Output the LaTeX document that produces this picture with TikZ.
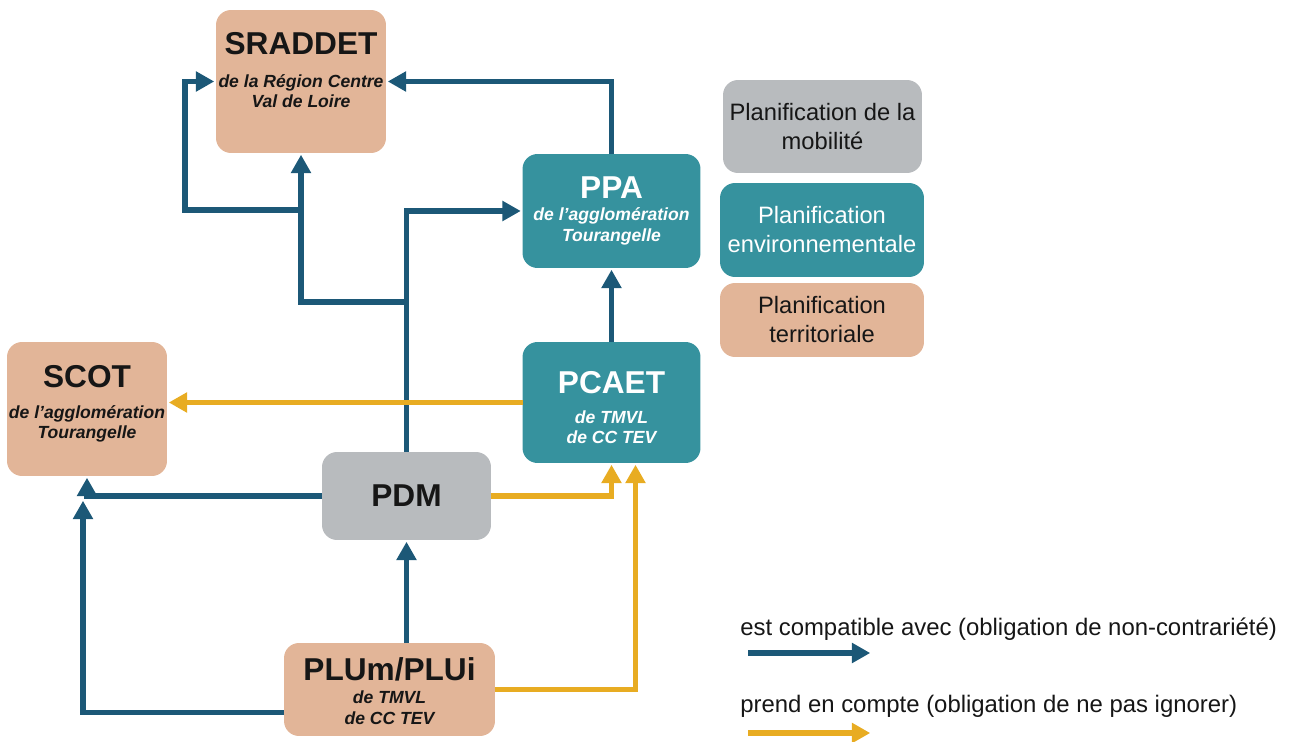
\documentclass[tikz,border=0pt]{standalone}
\usepackage{fontspec}
\setmainfont{Liberation Sans}
\usepackage{tikz}
\usetikzlibrary{arrows.meta,calc}

\definecolor{terri}{HTML}{E2B598}
\definecolor{envi}{HTML}{36929E}
\definecolor{mobi}{HTML}{B8BBBE}
\definecolor{bleu}{HTML}{1C5877}
\definecolor{jaune}{HTML}{E8AC22}
\definecolor{texte}{HTML}{161616}

\newcommand{\titre}[1]{{\fontsize{18}{18}\selectfont\upshape #1}}

\begin{document}
\begin{tikzpicture}[x=0.02cm, y=-0.02cm,
    boite/.style={rounded corners=0.3cm, inner sep=0pt, outer sep=0pt, align=center,
        font=\fontsize{10}{11.6}\selectfont\bfseries\itshape},
    terr/.style={boite, fill=terri, text=texte},
    env/.style={boite, fill=envi, text=white},
    mob/.style={boite, fill=mobi, text=texte},
    leg/.style={rounded corners=0.3cm, inner sep=0pt, align=center,
        font=\fontsize{13.5}{16.5}\selectfont},
    compat/.style={draw=bleu, line width=3.4pt, -{Triangle[length=10.5pt,width=11pt]}, shorten >=1pt},
    prend/.style={compat, draw=jaune}]
    \useasboundingbox (0,0) rectangle (1297,742);

    % plans
    \node[terr, minimum width=3.4cm, minimum height=2.86cm] (sraddet) at (301,81.5)
        {\titre{SRADDET}\\[7.1pt]de la Région Centre\\Val de Loire\\[1.4pt]\mbox{}};
    \node[env, minimum width=3.56cm, minimum height=2.28cm] (ppa) at (611.5,211)
        {\titre{PPA}\\[0.9pt]de l’agglomération\\Tourangelle};
    \node[env, minimum width=3.56cm, minimum height=2.42cm] (pcaet) at (611.5,402.5)
        {\titre{\rule{0pt}{18.5pt}PCAET}\\[5.4pt]de TMVL\\de CC TEV};
    \node[terr, minimum width=3.2cm, minimum height=2.68cm] (scot) at (87,409)
        {\titre{SCOT}\\[6pt]de l’agglomération\\Tourangelle\\[-3.6pt]\mbox{}};
    \node[mob, minimum width=3.38cm, minimum height=1.76cm] (pdm) at (406.5,496)
        {\titre{PDM}};
    \node[terr, minimum width=4.22cm, minimum height=1.86cm] (plu) at (389.5,689.5)
        {\titre{\rule{0pt}{15pt}PLUm/PLUi}\\[1.4pt]de TMVL\\de CC TEV};

    % legende
    \node[leg, fill=mobi, text=texte, minimum width=3.98cm, minimum height=1.86cm] (legmob) at (822.5,126.5)
        {Planification de la\\mobilité};
    \node[leg, fill=envi, text=white, minimum width=4.08cm, minimum height=1.88cm] (legenv) at (822,230)
        {Planification\\environnementale};
    \node[leg, fill=terri, text=texte, minimum width=4.08cm, minimum height=1.48cm] (legter) at (822,320)
        {Planification\\territoriale};
    \node[anchor=base west, inner sep=0pt, text=texte, font=\fontsize{13.6}{16}\selectfont] (legcompat) at (740,635)
        {est compatible avec (obligation de non-contrariété)};
    \node[anchor=base west, inner sep=0pt, text=texte, font=\fontsize{13.6}{16}\selectfont] (legprend) at (740,712)
        {prend en compte (obligation de ne pas ignorer)};

    % points de passage
    \coordinate (j1) at (406.5,302);
    \coordinate (j2) at (301,210);
    \coordinate (k) at (185,210);
    \coordinate (s2) at (83,499);
    \coordinate (a1) at (748,653);
    \coordinate (b1) at (872,653);
    \coordinate (a2) at (748,733);
    \coordinate (b2) at (872,733);

    % est compatible avec
    \draw[compat] (ppa.north) |- (sraddet.east);
    \draw[compat] (pdm.north) |- (ppa.west);
    \draw[compat] (j1) -| (sraddet.south);
    \draw[compat] (j2) -- (k) |- (sraddet.west);
    \draw[compat] (pcaet.north) -- (ppa.south);
    \draw[compat] (pdm.west) -| (scot.south);
    \draw[compat] ([yshift=-0.46cm]plu.west) -| (s2);
    \draw[compat] (plu.north -| pdm.south) -- (pdm.south);
    \draw[compat] (a1) -- (b1);

    % prend en compte
    \draw[prend] (pcaet.west) -- (pcaet.west -| scot.east);
    \draw[prend] (pdm.east) -| (pcaet.south);
    \draw[prend] (plu.east) -| ([xshift=0.48cm]pcaet.south);
    \draw[prend] (a2) -- (b2);
\end{tikzpicture}
\end{document}
